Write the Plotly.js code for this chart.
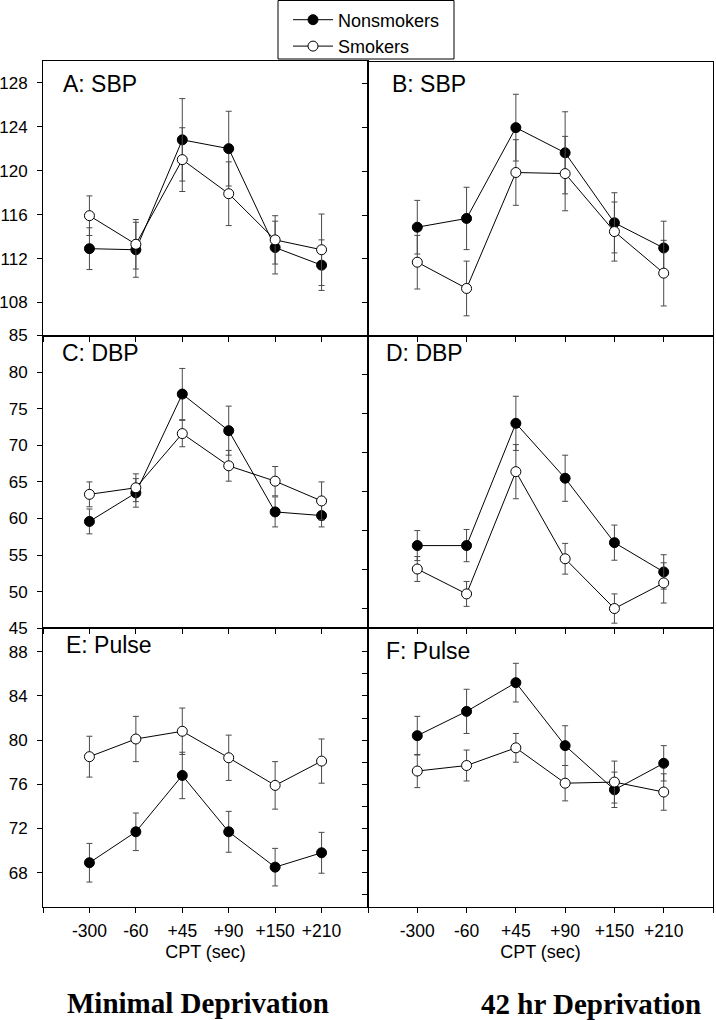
<!DOCTYPE html>
<html><head><meta charset="utf-8">
<script src="https://cdn.plot.ly/plotly-3.0.1.min.js"></script>
<style>html,body{margin:0;padding:0;background:#fff}#chart{width:716px;height:1020px}</style>
</head><body><div id="chart"></div>
<script>
// ---- data ----
const categories = ['-300', '-60', '+45', '+90', '+150', '+210'];
const seriesNames = ['Nonsmokers', 'Smokers'];

const A_ns = [112.9, 112.8, 122.8, 122.0, 113.0, 111.4];
const A_ns_err = [1.9, 2.5, 3.75, 3.4, 2.4, 2.3];
const A_s = [115.9, 113.3, 121.0, 117.9, 113.7, 112.8];
const A_s_err = [1.8, 2.25, 2.9, 2.9, 2.2, 3.25];

const B_ns = [114.9, 115.7, 124.0, 121.7, 115.3, 113.0];
const B_ns_err = [2.45, 2.85, 3.05, 3.75, 2.75, 2.45];
const B_s = [111.7, 109.3, 119.9, 119.8, 114.5, 110.7];
const B_s_err = [2.45, 2.5, 3.0, 3.4, 2.7, 3.0];

const C_ns = [59.6, 63.5, 77.0, 72.0, 60.9, 60.4];
const C_ns_err = [1.7, 1.95, 3.5, 3.35, 2.05, 1.55];
const C_s = [63.3, 64.2, 71.6, 67.2, 65.1, 62.4];
const C_s_err = [1.7, 1.9, 1.8, 2.1, 2.0, 2.6];

const D_ns = [56.3, 56.3, 73.0, 65.5, 56.7, 52.7];
const D_ns_err = [2.05, 2.2, 3.7, 3.15, 2.4, 2.35];
const D_s = [53.1, 49.7, 66.4, 54.5, 47.7, 51.2];
const D_s_err = [1.7, 1.7, 3.7, 2.1, 2.0, 2.75];

const E_ns = [68.9, 71.7, 76.8, 71.7, 68.5, 69.8];
const E_ns_err = [1.75, 1.7, 2.1, 1.85, 1.7, 1.85];
const E_s = [78.5, 80.1, 80.8, 78.4, 75.9, 78.1];
const E_s_err = [1.85, 2.05, 2.1, 2.05, 2.15, 2.0];

const F_ns = [80.4, 82.6, 85.2, 79.5, 75.5, 77.9];
const F_ns_err = [1.75, 2.0, 1.75, 1.8, 1.6, 1.6];
const F_s = [77.2, 77.7, 79.3, 76.1, 76.2, 75.3];
const F_s_err = [1.5, 1.4, 1.3, 1.6, 1.9, 1.65];

// tick labels / values
const sbpTicks = [108, 112, 116, 120, 124, 128];
const dbpTicks = [45, 50, 55, 60, 65, 70, 75, 80, 85];
const dbpTicksRight = [79.67, 74.33, 69, 63.67, 58.33, 53, 47.67];
const pulseTicks = [68, 72, 76, 80, 84, 88];
const pulseTicksRight = [66, 68, 70, 72, 74, 76, 78, 80, 82, 84, 86, 88];
const panelTitles = ['A: SBP', 'B: SBP', 'C: DBP', 'D: DBP', 'E: Pulse', 'F: Pulse'];
const xTitle = 'CPT (sec)';
const columnTitles = ['Minimal Deprivation', '42 hr Deprivation'];

// ---- layout helpers ----
const W = 716, H = 1020;
const fx = v => v / W;
const fy = v => 1 - v / H;
const FONT = 'Liberation Sans, Arial, sans-serif';

const xIdx = categories.map((c, i) => i);
const xTickVals = [-1].concat(xIdx, [categories.length]);
const xTickText = [''].concat(categories, ['']);

const panels = [
  {ns: A_ns, nsE: A_ns_err, s: A_s, sE: A_s_err, xpx: [43, 368], ypx: [60.7, 335.5], range: [105, 130], ticks: sbpTicks, labels: true, bottom: false, tpos: [61, 83.5]},
  {ns: B_ns, nsE: B_ns_err, s: B_s, sE: B_s_err, xpx: [368, 713], ypx: [62, 335.5], range: [105, 130], ticks: sbpTicks, labels: false, bottom: false, tpos: [390.5, 83.5]},
  {ns: C_ns, nsE: C_ns_err, s: C_s, sE: C_s_err, xpx: [43, 368], ypx: [335.5, 628.3], range: [45, 85], ticks: dbpTicks, labels: true, bottom: false, tpos: [59.5, 353]},
  {ns: D_ns, nsE: D_ns_err, s: D_s, sE: D_s_err, xpx: [368, 713], ypx: [335.5, 628.3], range: [45, 85], ticks: dbpTicksRight, labels: false, bottom: false, tpos: [384, 353]},
  {ns: E_ns, nsE: E_ns_err, s: E_s, sE: E_s_err, xpx: [43, 368], ypx: [628.3, 906.7], range: [64.92, 90.12], ticks: pulseTicks, labels: true, bottom: true, tpos: [64, 644.5]},
  {ns: F_ns, nsE: F_ns_err, s: F_s, sE: F_s_err, xpx: [368, 713], ypx: [628.3, 906.7], range: [64.92, 90.12], ticks: pulseTicksRight, labels: false, bottom: true, tpos: [384, 650.5]}
];

const traces = [];
const layout = {
  width: W, height: H,
  margin: {l: 0, r: 0, t: 0, b: 0},
  paper_bgcolor: 'white', plot_bgcolor: 'white',
  font: {family: FONT, color: 'black', size: 17},
  showlegend: true,
  legend: {
    x: fx(288), y: fy(1.5), xanchor: 'left', yanchor: 'top',
    bgcolor: 'rgba(0,0,0,0)', borderwidth: 0,
    font: {family: FONT, size: 18, color: 'black'},
    itemwidth: 40, tracegroupgap: 0
  },
  annotations: [],
  shapes: [{
    type: 'rect', xref: 'paper', yref: 'paper',
    x0: fx(278), x1: fx(454), y0: fy(59), y1: fy(0.5),
    line: {color: 'black', width: 1}, fillcolor: 'rgba(0,0,0,0)', layer: 'below'
  }]
};

panels.forEach((p, i) => {
  const n = i + 1;
  const xa = 'x' + (n > 1 ? n : '');
  const ya = 'y' + (n > 1 ? n : '');
  const errStyle = {type: 'data', visible: true, color: '#4a4a4a', thickness: 1, width: 3};
  traces.push({
    x: xIdx, y: p.ns, xaxis: xa, yaxis: ya, type: 'scatter', mode: 'lines+markers',
    name: seriesNames[0], legendgroup: 'ns', showlegend: i === 0,
    line: {color: 'black', width: 1},
    marker: {symbol: 'circle', size: 10, color: 'black', line: {color: 'black', width: 1}},
    error_y: Object.assign({array: p.nsE}, errStyle)
  });
  traces.push({
    x: xIdx, y: p.s, xaxis: xa, yaxis: ya, type: 'scatter', mode: 'lines+markers',
    name: seriesNames[1], legendgroup: 's', showlegend: i === 0,
    line: {color: 'black', width: 1},
    marker: {symbol: 'circle', size: 10, color: 'white', line: {color: 'black', width: 1}},
    error_y: Object.assign({array: p.sE}, errStyle)
  });

  layout['xaxis' + (n > 1 ? n : '')] = {
    domain: [fx(p.xpx[0]), fx(p.xpx[1])], anchor: ya,
    range: [-1, categories.length], tickmode: 'array',
    tickvals: xTickVals, ticktext: xTickText,
    showticklabels: p.bottom, ticks: 'outside', ticklen: 5, tickwidth: 1, tickcolor: 'black',
    showline: true, linecolor: 'black', linewidth: 1, mirror: true,
    showgrid: false, zeroline: false, fixedrange: true,
    tickfont: {family: FONT, size: 17.5, color: 'black'},
    ticklabelstandoff: 3,
    title: p.bottom ? {text: xTitle, font: {family: FONT, size: 18, color: 'black'}, standoff: 5} : {text: ''}
  };
  layout['yaxis' + (n > 1 ? n : '')] = {
    domain: [fy(p.ypx[1]), fy(p.ypx[0])], anchor: xa,
    range: p.range, tickmode: 'array', tickvals: p.ticks,
    showticklabels: p.labels, ticks: 'outside', ticklen: 5, tickwidth: 1, tickcolor: 'black',
    showline: true, linecolor: 'black', linewidth: 1, mirror: true,
    showgrid: false, zeroline: false, fixedrange: true,
    tickfont: {family: FONT, size: 17, color: 'black'},
    ticklabelstandoff: 6
  };
  layout.annotations.push({
    text: panelTitles[i], xref: 'paper', yref: 'paper',
    x: fx(p.tpos[0]), y: fy(p.tpos[1]), xanchor: 'left', yanchor: 'middle',
    showarrow: false, font: {family: FONT, size: 23, color: 'black'}
  });
});

layout.annotations.push({
  text: '<b>' + columnTitles[0] + '</b>', xref: 'paper', yref: 'paper',
  x: fx(198), y: fy(1003), xanchor: 'center', yanchor: 'middle', showarrow: false,
  font: {family: 'Liberation Serif, Times New Roman, serif', size: 29, color: 'black'}
});
layout.annotations.push({
  text: '<b>' + columnTitles[1] + '</b>', xref: 'paper', yref: 'paper',
  x: fx(591), y: fy(1004), xanchor: 'center', yanchor: 'middle', showarrow: false,
  font: {family: 'Liberation Serif, Times New Roman, serif', size: 29, color: 'black'}
});

Plotly.newPlot('chart', traces, layout, {staticPlot: true, displayModeBar: false});
</script>
</body></html>
